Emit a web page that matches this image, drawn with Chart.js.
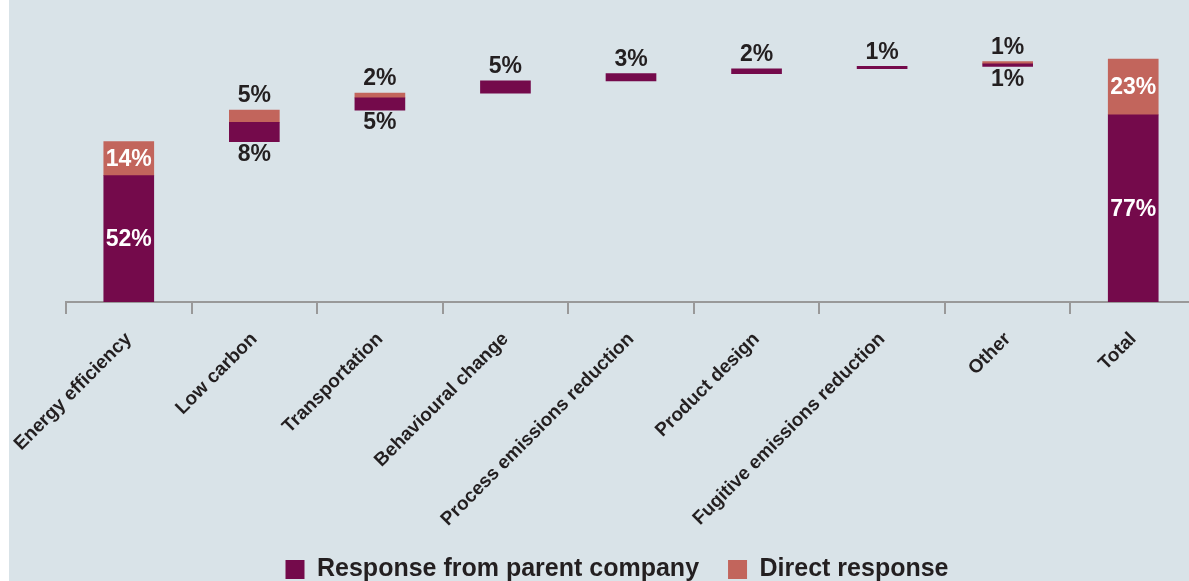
<!DOCTYPE html>
<html>
<head>
<meta charset="utf-8">
<script src="https://cdn.jsdelivr.net/npm/chart.js@4"></script>
<style>
  body { margin: 0; background: #fff; overflow: hidden; }
  #wrap {
    position: absolute; left: 9px; top: 0;
    width: 1180px; height: 581px;
    background: #d9e3e8; overflow: hidden;
  }
  #chart { position: absolute; left: 0; top: 0; }
</style>
</head>
<body>
<div id="wrap">
  <canvas id="chart" width="1216" height="581"></canvas>
</div>
<script>
const categories = [
  "Energy efficiency", "Low carbon", "Transportation", "Behavioural change",
  "Process emissions reduction", "Product design", "Fugitive emissions reduction",
  "Other", "Total"
];
// share of responses, %, last entry is the total
const parentValues = [52, 8, 5, 5, 3, 2, 1, 1, 77];
const directValues = [14, 5, 2, null, null, null, null, 1, 23];

const seriesNames = ["Response from parent company", "Direct response"];
const colors = ["#740a4b", "#c2655c"];
const textColor = "#231f20";

// waterfall: each step floats on top of the previous ones, the total starts at 0
const parentRanges = [];
const directRanges = [];
let running = 0;
categories.forEach((c, i) => {
  if (i === categories.length - 1) {
    parentRanges.push([0, parentValues[i]]);
    directRanges.push([parentValues[i], parentValues[i] + directValues[i]]);
    return;
  }
  parentRanges.push([running, running + parentValues[i]]);
  running += parentValues[i];
  if (directValues[i] != null) {
    directRanges.push([running, running + directValues[i]]);
    running += directValues[i];
  } else {
    directRanges.push(null);
  }
});

const valueLabels = {
  id: "valueLabels",
  afterDatasetsDraw(chart) {
    const ctx = chart.ctx;
    const parentBars = chart.getDatasetMeta(0).data;
    const directBars = chart.getDatasetMeta(1).data;
    ctx.save();
    ctx.font = "bold 23px 'Liberation Sans', Arial, sans-serif";
    ctx.textAlign = "center";
    ctx.textBaseline = "middle";

    categories.forEach((c, i) => {
      const p = parentBars[i];
      const d = directBars[i];
      const hasDirect = directValues[i] != null;

      [[p, parentValues[i], "p"], [d, directValues[i], "d"]].forEach(([bar, v, kind]) => {
        if (v == null || !bar) return;
        const top = Math.min(bar.y, bar.base);
        const bottom = Math.max(bar.y, bar.base);
        if (bottom - top > 30) {
          ctx.fillStyle = "#fff";
          ctx.fillText(v + "%", bar.x, (top + bottom) / 2 + 1);
        } else if (kind === "d" || !hasDirect) {
          ctx.fillStyle = textColor;
          ctx.fillText(v + "%", bar.x, top - 14);
        } else {
          ctx.fillStyle = textColor;
          ctx.fillText(v + "%", bar.x, bottom + 13);
        }
      });
    });
    ctx.restore();
  }
};

new Chart(document.getElementById("chart"), {
  type: "bar",
  data: {
    labels: categories,
    datasets: [
      { label: seriesNames[0], data: parentRanges, backgroundColor: colors[0], barThickness: 50 },
      { label: seriesNames[1], data: directRanges, backgroundColor: colors[1], barThickness: 50 }
    ]
  },
  plugins: [valueLabels],
  options: {
    responsive: false,
    animation: false,
    layout: { padding: { top: 0, left: 0, right: 0, bottom: -11 } },
    scales: {
      x: {
        stacked: true,
        grid: {
          drawOnChartArea: false,
          offset: true,
          tickLength: 12,
          color: "#999",
          lineWidth: 2
        },
        border: { display: true, color: "#999", width: 2 },
        ticks: {
          autoSkip: false,
          maxRotation: 45,
          minRotation: 45,
          padding: 14,
          color: textColor,
          font: { family: "'Liberation Sans', Arial, sans-serif", size: 19, weight: "bold" }
        },
        afterFit: (scale) => {
          // fixed band for the slanted labels, no extra side padding
          scale.height = 226;
          scale.paddingLeft = 0;
          scale.paddingRight = 0;
        }
      },
      y: {
        min: 0,
        max: 124.3,
        grid: { display: false },
        border: { display: false },
        ticks: { display: false },
        afterFit: (scale) => { scale.width = 57; }
      },
      yRight: {
        position: "right",
        grid: { display: false },
        border: { display: false },
        ticks: { display: false },
        afterFit: (scale) => { scale.width = 29; }
      }
    },
    plugins: {
      legend: {
        position: "bottom",
        labels: {
          boxWidth: 19,
          boxHeight: 19,
          padding: 29,
          color: textColor,
          font: { family: "'Liberation Sans', Arial, sans-serif", size: 25, weight: "bold" }
        }
      },
      tooltip: { enabled: false }
    }
  }
});
</script>
</body>
</html>
